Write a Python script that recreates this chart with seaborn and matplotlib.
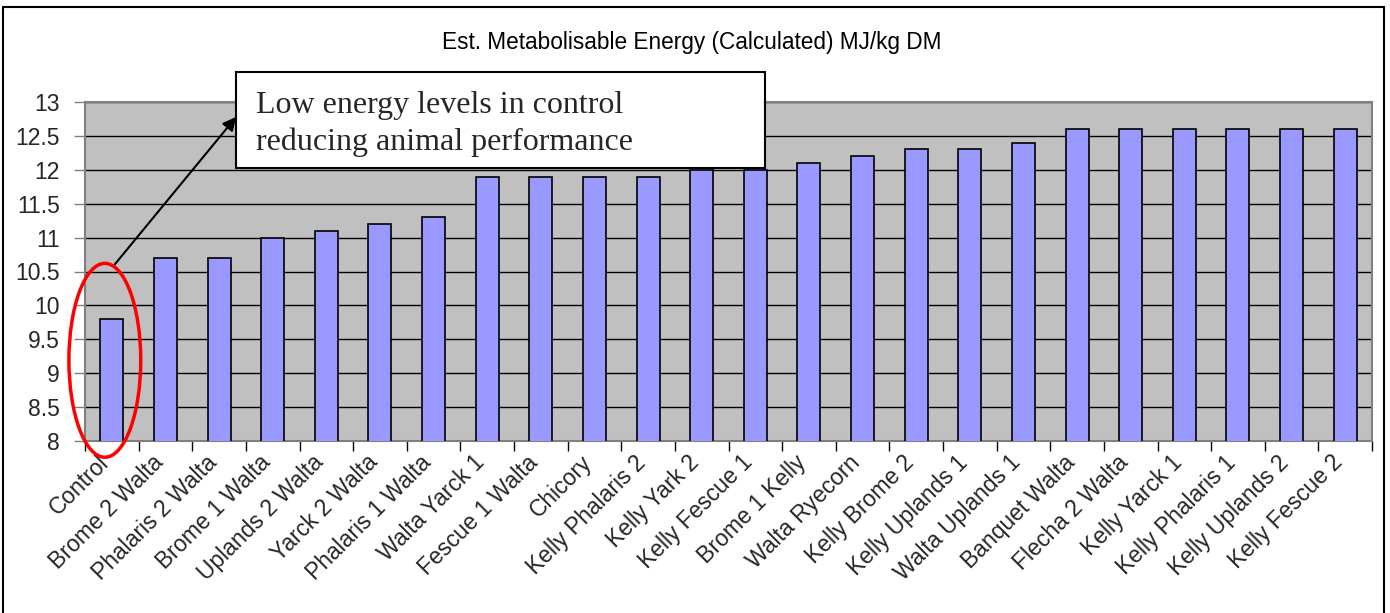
import matplotlib
matplotlib.use("Agg")
import matplotlib.pyplot as plt
from matplotlib.patches import Ellipse, Rectangle
from matplotlib.ticker import FixedLocator, FuncFormatter
from matplotlib.transforms import ScaledTranslation
import seaborn as sns
import pandas as pd
import numpy as np

categories = ["Control", "Brome 2 Walta", "Phalaris 2 Walta", "Brome 1 Walta",
              "Uplands 2 Walta", "Yarck 2 Walta", "Phalaris 1 Walta", "Walta Yarck 1",
              "Fescue 1 Walta", "Chicory", "Kelly Phalaris 2", "Kelly Yark 2",
              "Kelly Fescue 1", "Brome 1 Kelly", "Walta Ryecorn", "Kelly Brome 2",
              "Kelly Uplands 1", "Walta Uplands 1", "Banquet Walta", "Flecha 2 Walta",
              "Kelly Yarck 1", "Kelly Phalaris 1", "Kelly Uplands 2", "Kelly Fescue 2"]
values = [9.8, 10.7, 10.7, 11.0, 11.1, 11.2, 11.3, 11.9, 11.9, 11.9, 11.9, 12.0,
          12.0, 12.1, 12.2, 12.3, 12.3, 12.4, 12.6, 12.6, 12.6, 12.6, 12.6, 12.6]
title = "Est. Metabolisable Energy (Calculated) MJ/kg DM"
note_lines = ["Low energy levels in control", "reducing animal performance"]
y_ticks = [8, 8.5, 9, 9.5, 10, 10.5, 11, 11.5, 12, 12.5, 13]

df = pd.DataFrame({"cat": categories, "val": values})

sns.set_theme(style="white")
plt.rcParams["font.family"] = ["Liberation Sans", "DejaVu Sans"]

W, H = 1390, 613
fig = plt.figure(figsize=(W / 100, H / 100), dpi=100)
L, R, T, B = 85, 1372, 102, 441
ax = fig.add_axes([L / W, 1 - B / H, (R - L) / W, (B - T) / H])
ax.set_facecolor("#C0C0C0")

sns.barplot(data=df, x="cat", y="val", color="#9999FF", edgecolor="black",
            linewidth=1.2, width=0.43, saturation=1, ax=ax, zorder=3)
for p in ax.patches:
    p.set_facecolor("#9999FF")

ax.set_xlim(-0.5, len(categories) - 0.5)
ax.set_ylim(8, 13)
ax.set_yticks(y_ticks)
ax.yaxis.set_major_formatter(FuncFormatter(lambda v, p: f"{v:g}"))
ax.set_xlabel("")
ax.set_ylabel("")

ax.grid(axis="y", color="black", linewidth=1, zorder=1)
ax.set_axisbelow(True)
for s in ax.spines.values():
    s.set_color("#808080")
    s.set_linewidth(1.5)
    s.set_visible(True)

ax.tick_params(axis="y", which="major", direction="out", length=8, width=1,
               color="#808080", labelsize=16.5, pad=10, left=True)
ax.tick_params(axis="x", which="major", length=0, labelsize=16.5, pad=13)
ax.xaxis.set_minor_locator(FixedLocator(np.arange(-0.5, len(categories), 1.0)))
ax.tick_params(axis="x", which="minor", direction="out", length=7, width=1,
               color="black", bottom=True)
shift = ScaledTranslation(-0.06, 0, fig.dpi_scale_trans)
for lab in ax.get_xticklabels():
    lab.set_rotation(45)
    lab.set_ha("right")
    lab.set_va("center")
    lab.set_rotation_mode("anchor")
    lab.set_transform(lab.get_transform() + shift)

fig.text(692 / W, 1 - 42 / H, title, ha="center", va="center", fontsize=16.3, color="black")

# annotation box
fig.add_artist(Rectangle((236 / W, 1 - 168 / H), (765 - 236) / W, (168 - 72) / H,
                         transform=fig.transFigure, facecolor="white",
                         edgecolor="black", linewidth=1.5, zorder=5))
fig.text(256 / W, 1 - 113 / H, note_lines[0], family="Liberation Serif",
         fontsize=23, ha="left", va="baseline", zorder=6)
fig.text(256 / W, 1 - 150 / H, note_lines[1], family="Liberation Serif",
         fontsize=23, ha="left", va="baseline", zorder=6)

# red ellipse around control
ax.add_patch(Ellipse((-0.13, 9.19), 1.34, 2.86, facecolor="none", edgecolor="#FF0000",
                     linewidth=2.5, clip_on=False, zorder=7))
ax.annotate("", xy=(2.32, 12.78), xytext=(0.05, 10.6),
            arrowprops=dict(arrowstyle="-|>", color="black", lw=1.5,
                            mutation_scale=20, shrinkA=0, shrinkB=0),
            annotation_clip=False, zorder=4)

# outer frame
fig.add_artist(Rectangle((3 / W, -0.05), (1384 - 3) / W, 1 - 7 / H + 0.05,
                         transform=fig.transFigure, facecolor="none",
                         edgecolor="black", linewidth=1.5, clip_on=False))

fig.savefig("out.png", dpi=100)
